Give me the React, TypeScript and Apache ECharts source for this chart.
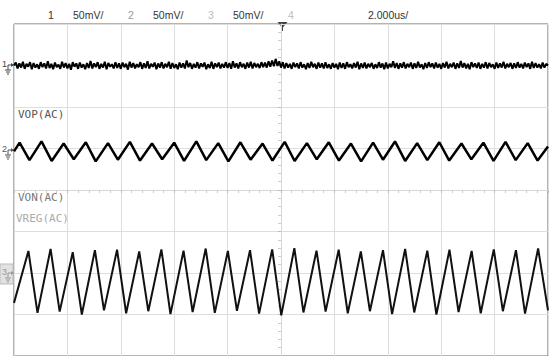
import React, { useEffect, useRef } from "react";
import * as echarts from "echarts";

// Header labels
const headerTexts: [string, number, string][] = [
  ["1", 48, "#333"],
  ["50mV/", 73, "#333"],
  ["2", 128, "#999"],
  ["50mV/", 153, "#333"],
  ["3", 208, "#bbb"],
  ["50mV/", 233, "#333"],
  ["4", 288, "#bbb"],
  ["2.000us/", 368, "#333"],
];

// Time axis: -10 .. 10 us (2 us/div), vertical: -4 .. 4 divisions
const timeMin = -10;
const timeMax = 10;

// Channel 1 (noisy flat trace, ~ +3 div), evenly sampled over the screen
const ch1 = [
  3.00, 3.07, 2.93, 3.05, 2.95, 3.09, 2.92, 3.04, 2.97, 3.08, 2.91, 3.06, 2.95, 3.03, 2.92, 3.08, 2.96, 3.05, 2.93, 3.10,
  2.94, 3.04, 2.91, 3.07, 2.96, 3.02, 2.92, 3.09, 2.95, 3.06, 2.93, 3.04, 2.90, 3.08, 2.97, 3.05, 2.92, 3.07, 2.95, 3.03,
  2.91, 3.06, 2.94, 3.11, 2.93, 3.05, 2.96, 3.08, 2.92, 3.04, 2.95, 3.09, 2.91, 3.06, 2.97, 3.03, 2.93, 3.08, 2.94, 3.05,
  2.92, 3.07, 2.96, 3.04, 2.90, 3.09, 2.95, 3.06, 2.93, 3.03, 2.96, 3.08, 2.92, 3.05, 2.94, 3.10, 2.93, 3.04, 2.97, 3.07,
  2.91, 3.05, 2.95, 3.08, 2.93, 3.04, 2.96, 3.09, 2.92, 3.06, 2.94, 3.03, 2.91, 3.07, 2.95, 3.05, 2.93, 3.12, 2.96, 3.06,
  2.92, 3.04, 2.95, 3.08, 2.93, 3.05, 2.97, 3.07, 2.91, 3.03, 2.94, 3.09, 2.92, 3.05, 2.96, 3.07, 2.93, 3.04, 2.95, 3.08,
  2.94, 3.06, 2.92, 3.10, 2.95, 3.05, 2.93, 3.08, 2.96, 3.04, 2.92, 3.07, 2.95, 3.09, 2.93, 3.06, 2.96, 3.04, 2.94, 3.08,
  2.96, 3.07, 2.95, 3.10, 2.97, 3.12, 2.98, 3.16, 2.99, 3.10, 2.95, 3.08, 2.93, 3.06, 2.95, 3.04, 2.92, 3.07, 2.96, 3.05,
  2.93, 3.08, 2.95, 3.03, 2.91, 3.06, 2.94, 3.09, 2.96, 3.04, 2.92, 3.07, 2.95, 3.05, 2.93, 3.08, 2.94, 3.03, 2.92, 3.06,
  2.95, 3.04, 2.91, 3.07, 2.94, 3.05, 2.92, 3.08, 2.96, 3.03, 2.93, 3.06, 2.95, 3.09, 2.91, 3.05, 2.94, 3.07, 2.93, 3.04,
  2.96, 3.06, 2.92, 3.03, 2.94, 3.08, 2.95, 3.05, 2.91, 3.07, 2.93, 3.04, 2.96, 3.10, 2.94, 3.06, 2.92, 3.05, 2.95, 3.08,
  2.93, 3.04, 2.96, 3.07, 2.92, 3.05, 2.94, 3.09, 2.95, 3.03, 2.91, 3.06, 2.94, 3.08, 2.96, 3.05, 2.93, 3.07, 2.95, 3.04,
  2.92, 3.06, 2.95, 3.09, 2.93, 3.04, 2.96, 3.07, 2.92, 3.05, 2.94, 3.11, 2.95, 3.06, 2.93, 3.04, 2.91, 3.08, 2.96, 3.05,
  2.94, 3.07, 2.92, 3.04, 2.95, 3.08, 2.93, 3.06, 2.96, 3.03, 2.92, 3.07, 2.94, 3.05, 2.95, 3.09, 2.93, 3.04, 2.96, 3.06,
  2.92, 3.05, 2.94, 3.08, 2.95, 3.04, 2.93, 3.07, 2.96, 3.05, 2.92, 3.09, 2.94, 3.06, 2.95, 3.03, 2.93, 3.07, 2.95, 3.04,
  3.00,
];

// Channel 2 (VOP, small triangle) vertices: [time us, divisions]
const ch2: [number, number][] = [
  [-10.0, 0.93],
  [-9.79, 1.14], [-9.42, 0.72], [-8.97, 1.17], [-8.59, 0.70],
  [-8.14, 1.12], [-7.76, 0.74], [-7.31, 1.15], [-6.94, 0.69],
  [-6.48, 1.13], [-6.11, 0.73], [-5.66, 1.16], [-5.28, 0.71],
  [-4.83, 1.12], [-4.45, 0.74], [-4.00, 1.14], [-3.63, 0.70],
  [-3.17, 1.17], [-2.80, 0.72], [-2.35, 1.13], [-1.97, 0.69],
  [-1.52, 1.15], [-1.14, 0.73], [-0.69, 1.12], [-0.32, 0.71],
  [0.14, 1.16], [0.51, 0.70], [0.97, 1.13], [1.34, 0.74],
  [1.79, 1.15], [2.17, 0.71], [2.62, 1.12], [3.00, 0.69],
  [3.45, 1.14], [3.82, 0.73], [4.27, 1.17], [4.65, 0.70],
  [5.10, 1.13], [5.48, 0.72], [5.93, 1.15], [6.30, 0.71],
  [6.76, 1.12], [7.13, 0.74], [7.58, 1.14], [7.96, 0.70],
  [8.41, 1.16], [8.79, 0.72], [9.24, 1.13], [9.61, 0.71],
  [10.0, 1.05],
];

// Channel 3 (VREG, large triangle) vertices: [time us, divisions]
const ch3: [number, number][] = [
  [-10.0, -2.72],
  [-9.46, -1.47], [-9.12, -2.96], [-8.63, -1.42], [-8.29, -2.93],
  [-7.80, -1.50], [-7.46, -3.00], [-6.97, -1.45], [-6.63, -2.90],
  [-6.14, -1.44], [-5.80, -2.97], [-5.31, -1.48], [-4.97, -2.92],
  [-4.48, -1.43], [-4.14, -2.99], [-3.65, -1.46], [-3.31, -2.94],
  [-2.82, -1.41], [-2.48, -2.96], [-1.99, -1.47], [-1.65, -2.91],
  [-1.16, -1.45], [-0.82, -2.98], [-0.33, -1.43], [0.01, -3.02],
  [0.50, -1.40], [0.84, -2.95], [1.33, -1.46], [1.67, -2.93],
  [2.16, -1.44], [2.50, -2.97], [2.99, -1.48], [3.33, -2.92],
  [3.82, -1.45], [4.16, -2.99], [4.65, -1.42], [4.99, -2.95],
  [5.48, -1.46], [5.82, -3.00], [6.31, -1.44], [6.65, -2.94],
  [7.14, -1.47], [7.48, -2.97], [7.97, -1.43], [8.31, -2.92],
  [8.80, -1.45], [9.14, -2.98], [9.63, -1.41], [10.0, -2.90],
];

function chMarker(label: string, y: number, color: string, boxed: boolean) {
  const els: any[] = [];
  if (boxed) {
    els.push({
      type: "rect",
      shape: { x: 0, y: y - 9, width: 13, height: 20 },
      style: { fill: "#e2e2e2", stroke: "#bbb", lineWidth: 1 },
    });
  }
  els.push({
    type: "text",
    x: 2,
    y: y - 1,
    style: {
      text: label,
      fill: color,
      font: "9px 'Liberation Sans', Arial, sans-serif",
      verticalAlign: "middle",
    },
  });
  els.push({
    type: "line",
    shape: { x1: 8, y1: y, x2: 12, y2: y },
    style: { stroke: color, lineWidth: 1 },
  });
  els.push({
    type: "polygon",
    shape: { points: [[11, y - 2], [14, y], [11, y + 2]] },
    style: { fill: color },
  });
  els.push({
    type: "line",
    shape: { x1: 8, y1: y, x2: 8, y2: y + 5 },
    style: { stroke: color, lineWidth: 1 },
  });
  els.push({
    type: "line",
    shape: { x1: 5, y1: y + 5, x2: 11, y2: y + 5 },
    style: { stroke: color, lineWidth: 1 },
  });
  els.push({
    type: "line",
    shape: { x1: 6, y1: y + 7, x2: 10, y2: y + 7 },
    style: { stroke: color, lineWidth: 1 },
  });
  els.push({
    type: "line",
    shape: { x1: 7, y1: y + 9, x2: 9, y2: y + 9 },
    style: { stroke: color, lineWidth: 1 },
  });
  return els;
}

export default function App() {
  const ref = useRef<HTMLDivElement>(null);

  useEffect(() => {
    if (!ref.current) return;
    const chart = echarts.init(ref.current, undefined, { renderer: "svg" });

    const n = ch1.length;
    const ch1Data = ch1.map((v, i) => [timeMin + (i * (timeMax - timeMin)) / (n - 1), v]);

    const graphics: any[] = [];
    headerTexts.forEach(([t, x, c]) => {
      graphics.push({
        type: "text",
        x,
        y: 15,
        style: {
          text: t,
          fill: c,
          font: "10.5px 'Liberation Sans', Arial, sans-serif",
          verticalAlign: "middle",
        },
      });
    });
    // trigger marker
    graphics.push({
      type: "polygon",
      shape: { points: [[277.5, 22], [287.5, 22], [282.5, 28]] },
      style: { fill: "#444" },
    });
    graphics.push({
      type: "line",
      shape: { x1: 282.5, y1: 27, x2: 282.5, y2: 31 },
      style: { stroke: "#444", lineWidth: 1 },
    });
    // channel labels
    graphics.push({
      type: "text",
      x: 16,
      y: 114,
      style: {
        text: "VOP(AC)",
        fill: "#555",
        font: "11px 'DejaVu Sans Mono', monospace",
        verticalAlign: "middle",
        backgroundColor: "#fff",
        padding: [1, 2, 1, 2],
      },
    });
    graphics.push({
      type: "text",
      x: 16,
      y: 197,
      style: {
        text: "VON(AC)",
        fill: "#777",
        font: "11px 'DejaVu Sans Mono', monospace",
        verticalAlign: "middle",
        backgroundColor: "#fff",
        padding: [1, 2, 1, 2],
      },
    });
    graphics.push({
      type: "text",
      x: 16,
      y: 218,
      style: {
        text: "VREG(AC)",
        fill: "#aaa",
        font: "11px 'DejaVu Sans Mono', monospace",
        verticalAlign: "middle",
      },
    });
    graphics.push(...chMarker("1", 65, "#444", false));
    graphics.push(...chMarker("2", 150, "#555", false));
    graphics.push(...chMarker("3", 273, "#999", true));

    chart.setOption({
      animation: false,
      backgroundColor: "#fff",
      grid: {
        left: 14,
        right: 3,
        top: 24,
        bottom: -1,
        show: true,
        borderColor: "#666",
        borderWidth: 1,
        z: 0,
      },
      xAxis: {
        type: "value",
        min: timeMin,
        max: timeMax,
        interval: 2,
        axisLine: { show: true, onZero: true, lineStyle: { color: "#d8d8d8" } },
        axisTick: { show: true, length: 3, lineStyle: { color: "#bbb" } },
        minorTick: { show: true, splitNumber: 5, length: 3, lineStyle: { color: "#ccc" } },
        axisLabel: { show: false },
        splitLine: { show: true, lineStyle: { color: "#dedede", width: 1 } },
      },
      yAxis: {
        type: "value",
        min: -4,
        max: 4,
        interval: 1,
        axisLine: { show: true, onZero: true, lineStyle: { color: "#d8d8d8" } },
        axisTick: { show: true, length: 3, lineStyle: { color: "#bbb" } },
        minorTick: { show: true, splitNumber: 5, length: 3, lineStyle: { color: "#ccc" } },
        axisLabel: { show: false },
        splitLine: { show: true, lineStyle: { color: "#dedede", width: 1 } },
      },
      series: [
        {
          name: "CH1",
          type: "line",
          data: ch1Data,
          showSymbol: false,
          symbol: "none",
          lineStyle: { color: "#000", width: 2 },
          z: 5,
        },
        {
          name: "VOP(AC)",
          type: "line",
          data: ch2,
          showSymbol: false,
          symbol: "none",
          lineStyle: { color: "#000", width: 2.5 },
          z: 5,
        },
        {
          name: "VREG(AC)",
          type: "line",
          data: ch3,
          showSymbol: false,
          symbol: "none",
          lineStyle: { color: "#111", width: 2 },
          z: 5,
        },
      ],
      graphic: { elements: graphics },
    });

    return () => chart.dispose();
  }, []);

  return (
    <div
      ref={ref}
      style={{ position: "fixed", left: 0, top: 0, width: 551, height: 356, background: "#fff" }}
    />
  );
}
